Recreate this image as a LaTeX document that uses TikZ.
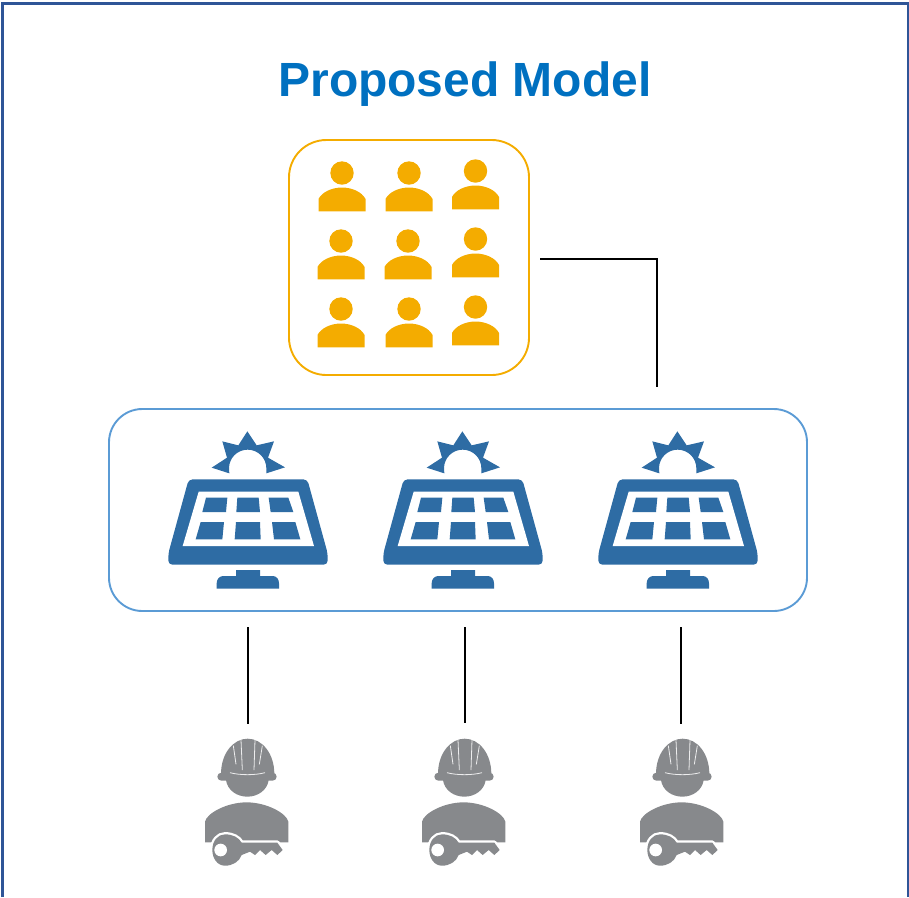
\documentclass[tikz,border=0pt]{standalone}
\usepackage{fontspec}
\setmainfont{Liberation Sans}
\definecolor{framec}{HTML}{2F5597}
\definecolor{titlec}{HTML}{0070C0}
\definecolor{orangec}{HTML}{F4AC00}
\definecolor{boxblue}{HTML}{5B9BD5}
\definecolor{panelc}{HTML}{2E6CA4}
\definecolor{workerc}{HTML}{87898C}
\tikzset{
  connector/.style={draw=black,line width=1.4pt*0.75},
  personicon/.pic={
    \fill[orangec] (0,0) circle[radius=11.7];
    \fill[orangec] (-23.5,38.3) -- (-23.5,26) .. controls (-20,19) and (-10,14.5) .. (0,14.5)
      .. controls (10,14.5) and (20,19) .. (23.5,26) -- (23.5,38.3) -- cycle;
  },
  panelicon/.pic={
    \begin{scope}[scale=1/3]
    % sun
    \fill[panelc] (238,160) -- (185,143) -- (231,113) -- (217,64) -- (265,76) -- (292,34)
      -- (320,76) -- (372,64) -- (354,113) -- (405,142) -- (349,160)
      -- (349,145) .. controls (349,114) and (324,89) .. (293,89)
      .. controls (262,89) and (237,114) .. (237,145) -- cycle;
    % frame
    \fill[panelc,rounded corners=3pt] (116,178) -- (472,178) -- (533,400) -- (533,434) -- (55,434) -- (55,400) -- cycle;
    \fill[white] (146,215) -- (445,215) -- (492,378) -- (98,378) -- cycle;
    % cells
    \fill[panelc] (168,233) -- (232,233) -- (228,276) -- (157,276) -- cycle;
    \fill[panelc] (262,233) -- (326,233) -- (330,276) -- (259,276) -- cycle;
    \fill[panelc] (356,233) -- (415,233) -- (430,276) -- (362,276) -- cycle;
    \fill[panelc] (152,306) -- (222,306) -- (217,358) -- (137,358) -- cycle;
    \fill[panelc] (258,306) -- (330,306) -- (332,358) -- (254,358) -- cycle;
    \fill[panelc] (366,306) -- (436,306) -- (451,358) -- (372,358) -- cycle;
    % stand
    \fill[panelc] (258,450) -- (330,450) -- (330,468) -- (368,468)
      .. controls (380,468) and (387,478) .. (387,490) -- (387,506) -- (200,506) -- (200,490)
      .. controls (200,478) and (208,468) .. (220,468) -- (258,468) -- cycle;
    \end{scope}
  },
  workericon/.pic={
    \begin{scope}[scale=1/3]
    % helmet
    \fill[workerc] (93,162) .. controls (93,100) and (130,56) .. (173,56)
      .. controls (216,56) and (253,100) .. (253,162) -- cycle;
    \fill[workerc,rounded corners=3pt] (82,158) -- (260,158) -- (260,182) -- (82,182) -- cycle;
    \fill[workerc] (108,180) .. controls (112,210) and (140,230) .. (172,230)
      .. controls (204,230) and (232,210) .. (236,180) -- cycle;
    \draw[white!85!workerc,line width=0.6pt] (130,77) -- (138,133);
    \draw[white!85!workerc,line width=0.6pt] (153,60) -- (157,150);
    \draw[white!85!workerc,line width=0.6pt] (195,60) -- (192,150);
    \draw[white!85!workerc,line width=0.6pt] (217,77) -- (208,133);
    \draw[white!85!workerc,line width=0.6pt] (120,158) .. controls (150,166) and (195,166) .. (225,158);
    % body
    \fill[workerc] (45,367) -- (45,305) .. controls (50,280) and (110,247) .. (170,247)
      .. controls (230,247) and (290,280) .. (295,305) -- (295,367) -- cycle;
    % key halo, then key
    \path[draw=white,line width=3.4pt,line join=round]
      (155,368) -- (262,368) -- (278,390) -- (262,405) -- (245,390)
      -- (227,405) -- (210,390) -- (195,405) -- (180,395) -- (155,405)
      .. controls (148,425) and (128,437) .. (105,437)
      .. controls (82,437) and (67,415) .. (67,390)
      .. controls (67,362) and (84,343) .. (105,343)
      .. controls (128,343) and (146,352) .. (155,368) -- cycle;
    \fill[workerc]
      (155,368) -- (262,368) -- (278,390) -- (262,405) -- (245,390)
      -- (227,405) -- (210,390) -- (195,405) -- (180,395) -- (155,405)
      .. controls (148,425) and (128,437) .. (105,437)
      .. controls (82,437) and (67,415) .. (67,390)
      .. controls (67,362) and (84,343) .. (105,343)
      .. controls (128,343) and (146,352) .. (155,368) -- cycle;
    \fill[white] (92,390) circle[radius=19];
    \end{scope}
  },
}
\begin{document}
\begin{tikzpicture}[x=0.75pt,y=-0.75pt]
\useasboundingbox (0,0) rectangle (909,897);
\draw[framec,line width=2pt] (2.2,897) -- (2.2,3.2) -- (908.6,3.2) -- (908.6,897);
\node[text=titlec,font=\fontsize{36}{40}\selectfont\bfseries,anchor=base,inner sep=0pt] (title) at (465,96) {Proposed Model};
% boxes
\node[draw=orangec,line width=1.9pt*0.75,rounded corners=28pt,minimum width=240*0.75pt,minimum height=235*0.75pt,inner sep=0pt] (crowd) at (409,257.5) {};
\node[draw=boxblue,line width=1.9pt*0.75,rounded corners=25pt,minimum width=698*0.75pt,minimum height=202*0.75pt,inner sep=0pt] (plant) at (458,510) {};
% people
\foreach \px/\py in {342/173,409/173,475.5/171,341/241,408/241,475.5/239,341/309,409/309,475.5/307}
  \pic at (\px,\py) {personicon};
% panels
\foreach \dx in {150,365,580}
  \pic at (\dx,420) {panelicon};
% workers
\foreach \dx in {190,407,625}
  \pic at (\dx,720) {workericon};
% connector ends
\coordinate (crowdEnd) at (540,259);
\coordinate (plantTop) at (657,387);
\coordinate (a1) at (248,627); \coordinate (b1) at (248,724);
\coordinate (a2) at (465,627); \coordinate (b2) at (465,723);
\coordinate (a3) at (681,627); \coordinate (b3) at (681,724);
\draw[connector] (crowdEnd) -- (plantTop |- crowdEnd) -- (plantTop);
\draw[connector] (a1) -- (b1);
\draw[connector] (a2) -- (b2);
\draw[connector] (a3) -- (b3);
\end{tikzpicture}
\end{document}
